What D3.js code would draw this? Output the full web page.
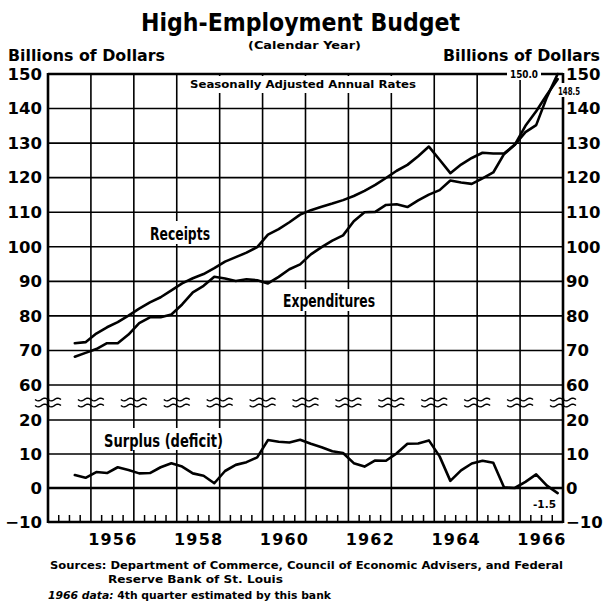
<!DOCTYPE html>
<html><head><meta charset="utf-8">
<script src="https://cdn.jsdelivr.net/npm/d3@7"></script>
<style>
body{margin:0;background:#fff}
svg{display:block}
text{font-family:"DejaVu Sans",sans-serif;font-weight:bold;fill:#000}
</style>
</head><body>
<svg id="c" width="603" height="606"></svg>
<script>
// ---------- DATA (billions of dollars, seasonally adjusted annual rates) ----------
const quarters = [
 "1955Q3","1955Q4",
 "1956Q1","1956Q2","1956Q3","1956Q4",
 "1957Q1","1957Q2","1957Q3","1957Q4",
 "1958Q1","1958Q2","1958Q3","1958Q4",
 "1959Q1","1959Q2","1959Q3","1959Q4",
 "1960Q1","1960Q2","1960Q3","1960Q4",
 "1961Q1","1961Q2","1961Q3","1961Q4",
 "1962Q1","1962Q2","1962Q3","1962Q4",
 "1963Q1","1963Q2","1963Q3","1963Q4",
 "1964Q1","1964Q2","1964Q3","1964Q4",
 "1965Q1","1965Q2","1965Q3","1965Q4",
 "1966Q1","1966Q2","1966Q3","1966Q4"];
const receipts = [
 72.1,72.4,
 74.9,76.7,78.2,80.1,
 82.1,83.9,85.4,87.4,
 89.4,90.9,92.1,93.8,
 95.7,97.0,98.3,99.9,
 103.5,105.1,107.1,109.3,
 110.6,111.6,112.5,113.5,
 114.7,116.2,117.9,119.9,
 122.0,123.7,126.2,129.0,
 125.2,121.3,123.8,125.7,
 127.2,127.0,127.0,129.5,
 135.0,139.2,144.0,148.5];
const expenditures = [
 68.2,69.3,
 70.4,72.1,72.1,74.6,
 77.9,79.6,79.6,80.4,
 83.3,86.8,88.7,91.3,
 90.8,90.1,90.6,90.3,
 89.4,91.3,93.5,94.9,
 97.8,99.9,101.8,103.3,
 107.4,110.0,110.1,112.1,
 112.3,111.5,113.4,115.1,
 116.4,119.2,118.6,118.2,
 119.8,121.5,126.8,129.5,
 133.2,135.2,143.3,150.0];
const surplus = [
 3.8,3.0,
 4.7,4.4,6.1,5.3,
 4.3,4.4,6.1,7.3,
 6.3,4.3,3.6,1.4,
 5.0,6.8,7.6,9.0,
 14.1,13.6,13.4,14.2,
 13.0,12.0,10.8,10.3,
 7.3,6.3,8.1,8.0,
 10.2,13.0,13.1,14.0,
 9.3,2.1,5.2,7.2,
 8.0,7.4,0.2,0.0,
 1.8,4.0,0.7,-1.5];
const upperTicks = [60,70,80,90,100,110,120,130,140,150];
const lowerTicks = [-10,0,10,20];
const yearLabels = [1956,1958,1960,1962,1964,1966];
const gridYears = [1955,1956,1957,1958,1959,1960,1961,1962,1963,1964,1965,1966,1967];

// ---------- SCALES ----------
const svg = d3.select("#c");
const x = d3.scaleLinear().domain([1955,1967]).range([48,563]);
const yTop = d3.scaleLinear().domain([60,150]).range([385,74]);
const yBot = d3.scaleLinear().domain([-10,20]).range([522,420]);
const qTime = q => +q.slice(0,4) + (+q.slice(5) - 0.5)/4;

const L = x.range()[0], R = x.range()[1];

// ---------- GRID ----------
const g = svg.append("g");
g.selectAll(".hu").data(upperTicks.filter(v=>v<150)).join("line")
 .attr("x1",L).attr("x2",R).attr("y1",d=>yTop(d)).attr("y2",d=>yTop(d))
 .attr("stroke","#000").attr("stroke-width",1.6);
g.selectAll(".hl").data(lowerTicks.filter(v=>v>-10)).join("line")
 .attr("x1",L).attr("x2",R).attr("y1",d=>yBot(d)).attr("y2",d=>yBot(d))
 .attr("stroke","#000").attr("stroke-width",d=>d===0?2.4:1.6);
g.selectAll(".v").data(gridYears.slice(1,-1)).join("line")
 .attr("x1",d=>x(d)).attr("x2",d=>x(d)).attr("y1",yTop(150)).attr("y2",yBot(-10))
 .attr("stroke","#000").attr("stroke-width",1.6);
const qt = [];
gridYears.slice(0,-1).forEach(yr=>[0.25,0.5,0.75].forEach(f=>qt.push(yr+f)));
g.selectAll(".qt").data(qt).join("line")
 .attr("x1",d=>x(d)).attr("x2",d=>x(d)).attr("y1",yBot(-10)).attr("y2",yBot(-10)-7)
 .attr("stroke","#000").attr("stroke-width",1.5);

// ---------- FRAME ----------
const frame = svg.append("g").attr("stroke","#000").attr("stroke-width",2.6).attr("fill","none");
frame.append("line").attr("x1",L).attr("x2",R).attr("y1",yTop(150)).attr("y2",yTop(150));
frame.append("line").attr("x1",L).attr("x2",R).attr("y1",yBot(-10)).attr("y2",yBot(-10));
frame.append("line").attr("x1",L).attr("x2",L).attr("y1",yTop(150)-1).attr("y2",yBot(-10)+1);
frame.append("line").attr("x1",R).attr("x2",R).attr("y1",yTop(150)-1).attr("y2",yBot(-10)+1);

// ---------- BREAK MARKS ----------
const yb = (yTop(60)+yBot(20))/2;
const wave = d3.line();
gridYears.forEach(yr=>{
  const cx = x(yr);
  svg.append("rect").attr("x",cx-13).attr("y",yb-3).attr("width",26).attr("height",6).attr("fill","#fff");
  svg.append("line").attr("x1",cx).attr("x2",cx).attr("y1",yb-4).attr("y2",yb+4)
     .attr("stroke","#000").attr("stroke-width",yr===1955||yr===1967?2.6:1.6);
  [-3,3].forEach(off=>{
    const pts = d3.range(0,27,1).map(i=>[cx-13+i, yb+off+1.4*Math.sin(i/26*2*Math.PI*2)]);
    svg.append("path").attr("d",wave(pts)).attr("fill","none").attr("stroke","#000").attr("stroke-width",1.4);
  });
});

// ---------- LABEL BOXES (white backgrounds) ----------
function box(x0,y0,w,h){svg.append("rect").attr("x",x0).attr("y",y0).attr("width",w).attr("height",h).attr("fill","#fff");}
box(184,76,244,17);
box(146,221,68,23);
box(280,289,98,22);
box(100,428,126,22);
box(507,66,34,14);
box(556,83,26,14);
box(530,497,30,13);

// ---------- DATA LINES ----------
const lineTop = vals => d3.line().x((d,i)=>x(qTime(quarters[i]))).y(d=>yTop(d))(vals);
const lineBot = vals => d3.line().x((d,i)=>x(qTime(quarters[i]))).y(d=>yBot(d))(vals);
const ls = svg.append("g").attr("fill","none").attr("stroke","#000").attr("stroke-width",2.6)
  .attr("stroke-linejoin","round").attr("stroke-linecap","round");
ls.append("path").attr("d",lineTop(receipts));
ls.append("path").attr("d",lineTop(expenditures));
ls.append("path").attr("d",lineBot(surplus));

// ---------- AXES LABELS ----------
const axL = svg.append("g").attr("transform",`translate(42,0)`)
  .call(d3.axisLeft(yTop).tickValues(upperTicks).tickSize(0).tickPadding(0));
const axLb = svg.append("g").attr("transform",`translate(42,0)`)
  .call(d3.axisLeft(yBot).tickValues(lowerTicks).tickSize(0).tickPadding(0));
const axR = svg.append("g").attr("transform",`translate(566,0)`)
  .call(d3.axisRight(yTop).tickValues(upperTicks).tickSize(0).tickPadding(0));
const axRb = svg.append("g").attr("transform",`translate(566,0)`)
  .call(d3.axisRight(yBot).tickValues(lowerTicks).tickSize(0).tickPadding(0));
[axL,axLb,axR,axRb].forEach(a=>{
  a.select(".domain").remove();
  a.selectAll("text").attr("font-size",16.5).attr("font-family","DejaVu Sans").attr("font-weight","bold").attr("fill","#000");
});
const axX = svg.append("g").attr("transform",`translate(0,${yBot(-10)})`)
  .call(d3.axisBottom(x).tickValues(yearLabels.map(v=>v+0.5)).tickFormat(d=>String(Math.floor(d))).tickSize(0).tickPadding(12));
axX.select(".domain").remove();
axX.selectAll("text").attr("font-size",16).attr("letter-spacing",1.2).attr("font-family","DejaVu Sans").attr("font-weight","bold").attr("fill","#000");

// ---------- TEXTS ----------
function txt(s,x0,y0,size,opts={}){
  const t = svg.append("text").attr("x",x0).attr("y",y0).attr("font-size",size).text(s);
  if(opts.anchor) t.attr("text-anchor",opts.anchor);
  if(opts.len){t.attr("textLength",opts.len).attr("lengthAdjust","spacingAndGlyphs");}
  if(opts.italic) t.attr("font-style","italic");
  return t;
}
txt("High-Employment Budget",141,31,24,{len:319});
txt("(Calendar Year)",248,49,10.5,{len:113});
txt("Billions of Dollars",8,61,15,{len:157});
txt("Billions of Dollars",443,61,15,{len:157});
txt("Seasonally Adjusted Annual Rates",190,88,10.5,{len:226});
txt("Receipts",150,240,17,{len:60});
txt("Expenditures",283,307,17,{len:92});
txt("Surplus (deficit)",104,447,17,{len:119});
txt("150.0",510,78,11,{len:28});
txt("148.5",558,95,10,{len:22});
txt("-1.5",533,508,11,{len:23});
txt("Sources: Department of Commerce, Council of Economic Advisers, and Federal",50,569,11,{len:513});
txt("Reserve Bank of St. Louis",108,583,11,{len:175});
const f = svg.append("text").attr("x",48).attr("y",599).attr("font-size",11)
  .attr("textLength",283).attr("lengthAdjust","spacingAndGlyphs");
f.append("tspan").attr("font-style","italic").text("1966 data: ");
f.append("tspan").text("4th quarter estimated by this bank");
</script>
</body></html>
